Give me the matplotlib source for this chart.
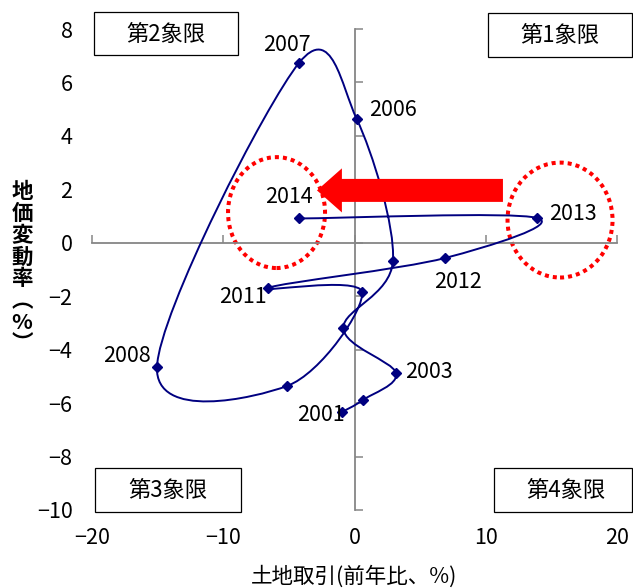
import numpy as np
import matplotlib
matplotlib.use("Agg")
import matplotlib.pyplot as plt
from matplotlib.patches import Ellipse, FancyArrow, Rectangle
from matplotlib.path import Path
from matplotlib.patches import PathPatch

plt.rcParams['font.family'] = ['Noto Sans CJK JP', 'DejaVu Sans']

# ---- data ----
years = [2001, 2002, 2003, 2004, 2005, 2006, 2007, 2008, 2009, 2010, 2011, 2012, 2013, 2014]
land_trans = [-0.95, 0.65, 3.16, -0.85, 2.93, 0.17, -4.23, -15.05, -5.14, 0.57, -6.59, 6.9, 13.9, -4.2]
land_price = [-6.33, -5.88, -4.87, -3.19, -0.68, 4.63, 6.73, -4.65, -5.36, -1.84, -1.69, -0.57, 0.93, 0.91]
labeled_years = [2007, 2006, 2014, 2013, 2012, 2011, 2008, 2003, 2001]
x_ticks = [-20, -10, 0, 10, 20]
y_ticks = [-10, -8, -6, -4, -2, 0, 2, 4, 6, 8]
quadrants = ["第1象限", "第2象限", "第3象限", "第4象限"]
xlabel = "土地取引(前年比、%)"
ylabel = "地価変動率︵%︶"

W, H = 633, 588
fig = plt.figure(figsize=(W / 100, H / 100), dpi=100)
ax = fig.add_axes([92 / W, 1 - 510 / H, 525 / W, 481 / H])
ax.set_xlim(-20, 20)
ax.set_ylim(-10, 8)

# axes through origin
for s in ['top', 'right']:
    ax.spines[s].set_visible(False)
for s in ['left', 'bottom']:
    ax.spines[s].set_position(('data', 0))
    ax.spines[s].set_color('#868686')
    ax.spines[s].set_linewidth(1.3)
ax.set_xticks(x_ticks)
ax.set_yticks(y_ticks)
ax.tick_params(axis='both', direction='in', length=5.5, width=1.1, color='#868686',
               labelleft=False, labelbottom=False)

# tick labels at the outer edges
sy = ax.secondary_yaxis('left')
sy.set_yticks(y_ticks)
sy.spines['left'].set_visible(False)
sy.tick_params(length=0, pad=14, labelsize=15.5)
sx = ax.secondary_xaxis('bottom')
sx.set_xticks(x_ticks)
sx.spines['bottom'].set_visible(False)
sx.tick_params(length=0, pad=12, labelsize=15.5)


# smoothed line (cardinal / Catmull-Rom bezier)
def smooth_path(xs, ys):
    P = np.column_stack([xs, ys]).astype(float)
    n = len(P)
    verts = [P[0]]
    codes = [Path.MOVETO]
    for i in range(n - 1):
        p0 = P[i - 1] if i > 0 else P[i]
        p1 = P[i]
        p2 = P[i + 1]
        p3 = P[i + 2] if i + 2 < n else P[i + 1]
        c1 = p1 + (p2 - p0) / 6.0
        c2 = p2 - (p3 - p1) / 6.0
        verts += [c1, c2, p2]
        codes += [Path.CURVE4] * 3
    return Path(verts, codes)


ax.add_patch(PathPatch(smooth_path(land_trans, land_price), fill=False,
                       edgecolor='#000080', lw=1.4, clip_on=False, zorder=3))
ax.plot(land_trans, land_price, linestyle='none', marker='D', ms=5.3,
        color='#000080', clip_on=False, zorder=4)

# year labels
offsets = {2007: (-12, 18), 2006: (36, 9), 2014: (-10, 21), 2013: (36, 4),
           2012: (13, -24), 2011: (-25, -9), 2008: (-30, 11), 2003: (33, 1),
           2001: (-21, -3)}
for yr in labeled_years:
    i = years.index(yr)
    ax.annotate(str(yr), (land_trans[i], land_price[i]), xytext=offsets[yr],
                textcoords='offset pixels', ha='center', va='center',
                fontsize=15.5, zorder=5)

# red dotted ellipses
ax.add_patch(Ellipse((-5.94, 1.13), 7.39, 4.15, fill=False, edgecolor='#ff0000',
                     lw=2.9, linestyle=(0, (1, 1)), clip_on=False, zorder=2))
ax.add_patch(Ellipse((15.66, 0.85), 8.0, 4.3, fill=False, edgecolor='#ff0000',
                     lw=2.9, linestyle=(0, (1, 1)), clip_on=False, zorder=2))

# red arrow
ax.add_patch(FancyArrow(11.31, 1.96, -14.17, 0, width=0.86, head_width=1.65,
                        head_length=1.9, length_includes_head=True,
                        color='#ff0000', lw=0, zorder=6))


# quadrant boxes
def fx(x):
    return x / W


def fy(y):
    return 1 - y / H


boxes = [(488, 13, 632, 57), (94, 12, 238, 55), (95, 468, 241, 512), (494, 468, 632, 512)]
text_c = [(560, 35), (166, 34), (168, 490), (566, 490)]
for q, (x0, y0, x1, y1), (tx, ty) in zip(quadrants, boxes, text_c):
    fig.patches.append(Rectangle((fx(x0), fy(y1)), fx(x1) - fx(x0), fy(y0) - fy(y1),
                                 transform=fig.transFigure, facecolor='white',
                                 edgecolor='black', lw=0.9, zorder=7))
    fig.text(fx(tx), fy(ty), q, ha='center', va='center', fontsize=16, zorder=8)

# axis titles
fig.text(fx(354), fy(577), xlabel, ha='center', va='center', fontsize=15.5)
fig.text(fx(22), fy(268), "\n".join(list(ylabel)), ha='center', va='center',
         fontsize=15.5, linespacing=1.05, fontweight='bold')

fig.savefig('out.png', dpi=100)
